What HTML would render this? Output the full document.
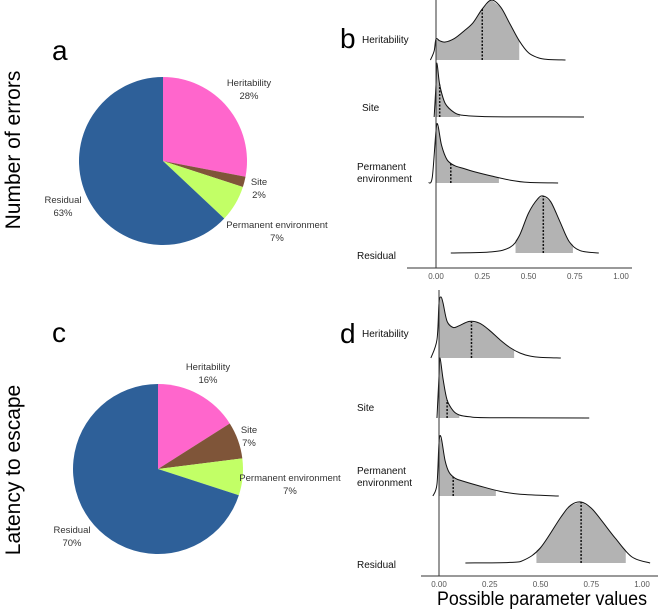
<!DOCTYPE html>
<html><head><meta charset="utf-8">
<style>
body{margin:0;background:#fff;}
svg{display:block;font-family:"Liberation Sans","DejaVu Sans",sans-serif;}
</style></head>
<body>
<svg id="fig" width="660" height="609" viewBox="0 0 660 609">
<text x="52" y="60" font-size="28">a</text>
<text x="340" y="48" font-size="28">b</text>
<text x="52" y="342" font-size="28">c</text>
<text x="340" y="343" font-size="28">d</text>
<text transform="translate(20,150) rotate(-90)" text-anchor="middle" font-size="21">Number of errors</text>
<text transform="translate(20,470) rotate(-90)" text-anchor="middle" font-size="21">Latency to escape</text>
<g id="pies"></g>
<g id="ridges"></g>
<text x="437" y="605" font-size="19" textLength="210" lengthAdjust="spacingAndGlyphs">Possible parameter values</text>
</svg>
<script>
const NS="http://www.w3.org/2000/svg";
const pieCats=["Heritability","Site","Permanent environment","Residual"];
const pieColors=["#ff66cc","#7f5539","#c2ff66","#2e6099"];
const pieA=[28,2,7,63];
const pieC=[16,7,7,70];

const ridgeCats=["Heritability","Site","Permanent environment","Residual"];
const bHerX=[-0.03,-0.01,0.0,0.02,0.05,0.1,0.15,0.2,0.25,0.3,0.35,0.4,0.45,0.5,0.55,0.6,0.7];
const bHerY=[0,0.15,0.35,0.32,0.3,0.36,0.48,0.62,0.85,1.0,0.88,0.6,0.32,0.12,0.04,0.01,0];
const bSiteX=[-0.01,0,0.005,0.02,0.05,0.1,0.15,0.25,0.4,0.8];
const bSiteY=[0,0.6,1,0.6,0.25,0.08,0.03,0.01,0.003,0];
const bPermX=[-0.04,-0.02,0,0.01,0.03,0.06,0.1,0.15,0.2,0.3,0.4,0.5,0.66];
const bPermY=[0,0.1,0.9,1,0.65,0.4,0.3,0.25,0.2,0.12,0.05,0.01,0];
const bResX=[0.08,0.3,0.4,0.45,0.5,0.55,0.58,0.62,0.67,0.72,0.78,0.88];
const bResY=[0,0.02,0.1,0.3,0.7,0.95,1,0.9,0.55,0.2,0.04,0];
const bLo=[0,0,0,0.43], bHi=[0.45,0.13,0.34,0.74], bMed=[0.25,0.02,0.08,0.58];

const dHerX=[-0.04,-0.01,0.0,0.01,0.02,0.04,0.07,0.1,0.15,0.2,0.25,0.3,0.35,0.4,0.45,0.5,0.6];
const dHerY=[0,0.3,0.9,1.0,0.9,0.6,0.5,0.53,0.6,0.57,0.45,0.3,0.17,0.08,0.03,0.01,0];
const dSiteX=[-0.01,0,0.005,0.02,0.04,0.07,0.1,0.15,0.25,0.74];
const dSiteY=[0,0.7,1,0.65,0.3,0.12,0.05,0.02,0.005,0];
const dPermX=[-0.03,-0.01,0,0.01,0.03,0.05,0.08,0.12,0.2,0.3,0.4,0.59];
const dPermY=[0,0.2,0.9,1,0.6,0.4,0.3,0.25,0.17,0.08,0.03,0];
const dResX=[0.13,0.35,0.42,0.5,0.6,0.65,0.7,0.75,0.8,0.87,0.95,1.04];
const dResY=[0,0.01,0.05,0.25,0.75,0.95,1,0.9,0.7,0.4,0.1,0];
const dLo=[0,0,0,0.48], dHi=[0.37,0.1,0.28,0.92], dMed=[0.16,0.04,0.07,0.7];
const ticks=[0,0.25,0.5,0.75,1.0];
const tickLabels=["0.00","0.25","0.50","0.75","1.00"];

function el(tag,attrs,parent){const e=document.createElementNS(NS,tag);for(const k in attrs)e.setAttribute(k,attrs[k]);parent.appendChild(e);return e;}

function pie(vals,cx,cy,r,labels,prefix){
  const g=document.getElementById("pies");
  const tot=vals.reduce((a,b)=>a+b,0);let a0=0;
  vals.forEach((v,i)=>{
    const a1=a0+v/tot*2*Math.PI;
    const x0=cx+r*Math.sin(a0),y0=cy-r*Math.cos(a0),x1=cx+r*Math.sin(a1),y1=cy-r*Math.cos(a1);
    const p=el("path",{d:`M${cx},${cy}L${x0},${y0}A${r},${r} 0 ${a1-a0>Math.PI?1:0} 1 ${x1},${y1}Z`,fill:pieColors[i]},g);
    
    
    a0=a1;
  });
  labels.forEach((L,i)=>{
    const t=el("text",{x:L[0],y:L[1],"font-size":9.5,"text-anchor":"middle",fill:"#333"},g);
    t.textContent=pieCats[i];
    
    
    const t2=el("text",{x:L[0],y:L[1]+13,"font-size":9.5,"text-anchor":"middle",fill:"#333"},g);
    t2.textContent=vals[i]+"%";
    
    
  });
}
pie(pieA,163,161,84,[[249,86],[259,185],[277,228],[63,203]],"pie-a");
pie(pieC,158,469,85,[[208,370],[249,433],[290,481],[72,533]],"pie-c");

function ridge(cfg){
  const g=el("g",{},document.getElementById("ridges"));
  const sx=v=>cfg.x0+v*cfg.k;
  cfg.series.forEach((s,i)=>{
    const base=cfg.bases[i],h=cfg.heights[i];
    const X=s[0],Y=s[1];
    const sy=v=>base-v*h;
    const interp=x=>{for(let j=0;j<X.length-1;j++){if(x>=X[j]&&x<=X[j+1]){const t=(x-X[j])/(X[j+1]-X[j]);return Y[j]+t*(Y[j+1]-Y[j]);}}return 0;};
    const lo=cfg.lo[i],hi=cfg.hi[i];
    let pts=[[lo,interp(lo)]];
    X.forEach((x,j)=>{if(x>lo&&x<hi)pts.push([x,Y[j]]);});
    pts.push([hi,interp(hi)]);
    let d=`M${sx(lo)},${base}`+pts.map(p=>`L${sx(p[0])},${sy(p[1])}`).join("")+`L${sx(hi)},${base}Z`;
    const sh=el("path",{d:d,fill:"#b3b3b3"},g);
    
    
    const P=X.map((x,j)=>[sx(x),sy(Y[j])]);
    let c=`M${P[0][0]},${P[0][1]}`;
    for(let j=0;j<P.length-1;j++){const p0=P[Math.max(j-1,0)],p1=P[j],p2=P[j+1],p3=P[Math.min(j+2,P.length-1)];
      c+=`C${p1[0]+(p2[0]-p0[0])/6},${p1[1]+(p2[1]-p0[1])/6} ${p2[0]-(p3[0]-p1[0])/6},${p2[1]-(p3[1]-p1[1])/6} ${p2[0]},${p2[1]}`;}
    const cu=el("path",{d:c,fill:"none",stroke:"#111","stroke-width":1},g);
    
    
    const m=cfg.med[i];
    const ml=el("line",{x1:sx(m),x2:sx(m),y1:base,y2:sy(interp(m)),stroke:"#111","stroke-width":1.5,"stroke-dasharray":"2,1.5"},g);
    
    
    const lab=cfg.labels[i];
    lab[2].forEach((line,k)=>{
      const t=el("text",{x:lab[0],y:lab[1]+k*12,"font-size":10,fill:"#111"},g);
      t.textContent=line;
      
      
    });
  });
  const ax=el("line",{x1:cfg.axL,x2:cfg.axR,y1:cfg.axY,y2:cfg.axY,stroke:"#333","stroke-width":1},g);
  
  
  const vl=el("line",{x1:sx(0),x2:sx(0),y1:cfg.vTop,y2:cfg.axY,stroke:"#333","stroke-width":1},g);
  
  
  ticks.forEach((t,i)=>{
    const tx=el("text",{x:sx(t),y:cfg.axY+11,"font-size":8,"text-anchor":"middle",fill:"#555"},g);
    tx.textContent=tickLabels[i];
    
    
  });
}
ridge({prefix:"ridge-b",x0:436,k:185,bases:[60,117,183,253],heights:[60,54,58,57],
  series:[[bHerX,bHerY],[bSiteX,bSiteY],[bPermX,bPermY],[bResX,bResY]],lo:bLo,hi:bHi,med:bMed,
  labels:[[362,43,["Heritability"]],[362,111,["Site"]],[357,170,["Permanent","environment"]],[357,259,["Residual"]]],
  axL:407,axR:632,axY:268,vTop:0});
ridge({prefix:"ridge-d",x0:439,k:203,bases:[358,418,496,563],heights:[61,60,59,61],
  series:[[dHerX,dHerY],[dSiteX,dSiteY],[dPermX,dPermY],[dResX,dResY]],lo:dLo,hi:dHi,med:dMed,
  labels:[[362,337,["Heritability"]],[357,411,["Site"]],[357,474,["Permanent","environment"]],[357,568,["Residual"]]],
  axL:421,axR:658,axY:576,vTop:290});
</script>
</body></html>
